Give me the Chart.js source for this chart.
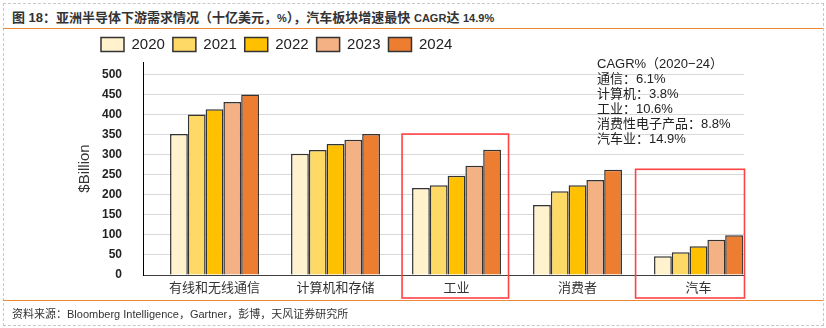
<!DOCTYPE html>
<html lang="zh">
<head>
<meta charset="UTF-8" />
<title>亚洲半导体下游需求情况</title>
<script src="https://cdn.jsdelivr.net/npm/chart.js"></script>
<style>
  body {
    margin: 0;
    width: 826px;
    height: 328px;
    position: relative;
    overflow: hidden;
    background: #fff;
    font-family: "Liberation Sans", Arial, "Noto Sans CJK SC", sans-serif;
  }
  #frame {
    position: absolute;
    left: 3px;
    top: 3px;
    width: 821px;
    height: 323px;
    border: 1px dashed #c8c8c8;
    box-sizing: border-box;
  }
  #title {
    position: absolute;
    left: 12px;
    top: 7px;
    font-size: 13px;
    font-weight: bold;
    color: #333;
    white-space: nowrap;
  }
  #title .sm { font-size: 11px; }
  .rule {
    position: absolute;
    left: 3px;
    width: 820px;
    border-top: 1.5px solid #ee8a33;
  }
  #chart { position: absolute; left: 0; top: 0; }
  #cagr {
    position: absolute;
    left: 597px;
    top: 56px;
    font-size: 13px;
    line-height: 15px;
    color: #222;
    white-space: nowrap;
  }
  #source {
    position: absolute;
    left: 12px;
    top: 305px;
    font-size: 11px;
    color: #333;
    white-space: nowrap;
  }
</style>
</head>
<body>
<div id="frame"></div>
<div id="title">图 18：亚洲半导体下游需求情况（十亿美元，<span class="sm">%</span>），汽车板块增速最快 <span class="sm">CAGR</span>达 <span class="sm">14.9%</span></div>
<div class="rule" style="top: 28px"></div>
<canvas id="chart" width="826" height="328"></canvas>
<div id="cagr"></div>
<div class="rule" style="top: 300px"></div>
<div id="source">资料来源：Bloomberg Intelligence，Gartner，彭博，天风证券研究所</div>

<script>
// data ($Billion)
const categories = ["有线和无线通信", "计算机和存储", "工业", "消费者", "汽车"]
const years = ["2020", "2021", "2022", "2023", "2024"]
const v2020 = [352, 303, 217, 175, 47]
const v2021 = [401, 312, 224, 209, 57]
const v2022 = [414, 327, 248, 224, 72]
const v2023 = [432, 338, 273, 237, 88]
const v2024 = [451, 352, 313, 263, 99]
const yTicks = [0, 50, 100, 150, 200, 250, 300, 350, 400, 450, 500]
const cagrLines = [
    "CAGR%（2020−24）",
    "通信：6.1%",
    "计算机：3.8%",
    "工业：10.6%",
    "消费性电子产品：8.8%",
    "汽车业：14.9%",
]

const seriesValues = [v2020, v2021, v2022, v2023, v2024]
const colors = ["#fff2cc", "#ffd966", "#ffc000", "#f4b183", "#ed7d31"]

document.getElementById("cagr").innerHTML = cagrLines.map((t) => `<div>${t}</div>`).join("")

// red frames round 工业 and 汽车 (x in category units, top in $Billion)
const highlightBoxes = [
    { from: 1.55, to: 2.43, top: 352 },
    { from: 3.48, to: 4.38, top: 264 },
]

const boxPlugin = {
    id: "boxes",
    afterDraw(chart) {
        const { ctx, scales } = chart
        const bottom = scales.y.getPixelForValue(0) + 23
        ctx.save()
        ctx.strokeStyle = "#ff4343"
        ctx.lineWidth = 1.6
        highlightBoxes.forEach((b) => {
            const l = scales.x.getPixelForValue(b.from)
            const r = scales.x.getPixelForValue(b.to)
            const t = scales.y.getPixelForValue(b.top)
            ctx.strokeRect(l, t, r - l, bottom - t)
        })
        ctx.restore()
    },
}

Chart.defaults.font.family = '"Liberation Sans", Arial, "Noto Sans CJK SC", sans-serif'

new Chart(document.getElementById("chart"), {
    type: "bar",
    data: {
        datasets: years.map((y, k) => ({
            label: y,
            data: categories.map((c, i) => ({ x: i, y: seriesValues[k][i] })),
            backgroundColor: colors[k],
            borderColor: "#333",
            borderWidth: 1.5,
            categoryPercentage: 0.735,
            barPercentage: 1,
        })),
    },
    options: {
        responsive: false,
        animation: false,
        layout: { padding: { left: 93, right: 82, top: 29, bottom: 23 } },
        plugins: {
            legend: {
                align: "start",
                labels: {
                    boxWidth: 23,
                    boxHeight: 14,
                    padding: 8,
                    color: "#222",
                    font: { size: 15 },
                },
            },
            tooltip: { enabled: false },
        },
        scales: {
            x: {
                type: "linear",
                offset: false,
                min: -0.591,
                max: 4.376,
                grid: { display: false, drawTicks: false },
                border: { color: "#404040" },
                afterBuildTicks: (s) => {
                    s.ticks = categories.map((c, i) => ({ value: i }))
                },
                afterFit: (s) => {
                    s.height = 30
                },
                ticks: {
                    callback: (v) => categories[v],
                    padding: 6,
                    color: "#333",
                    font: { size: 13 },
                    autoSkip: false,
                    maxRotation: 0,
                },
            },
            y: {
                min: 0,
                max: 532,
                afterBuildTicks: (s) => {
                    s.ticks = yTicks.map((v) => ({ value: v }))
                },
                afterFit: (s) => {
                    s.width = 50
                },
                grid: { color: "#d9d9d9", drawTicks: false },
                border: { color: "#000" },
                ticks: {
                    padding: 21,
                    color: "#222",
                    font: { size: 12, weight: "bold" },
                    autoSkip: false,
                },
                title: {
                    display: true,
                    text: "$Billion",
                    color: "#333",
                    font: { size: 15 },
                    padding: { top: -17, bottom: 0 },
                },
            },
        },
    },
    plugins: [boxPlugin],
})
</script>
</body>
</html>
